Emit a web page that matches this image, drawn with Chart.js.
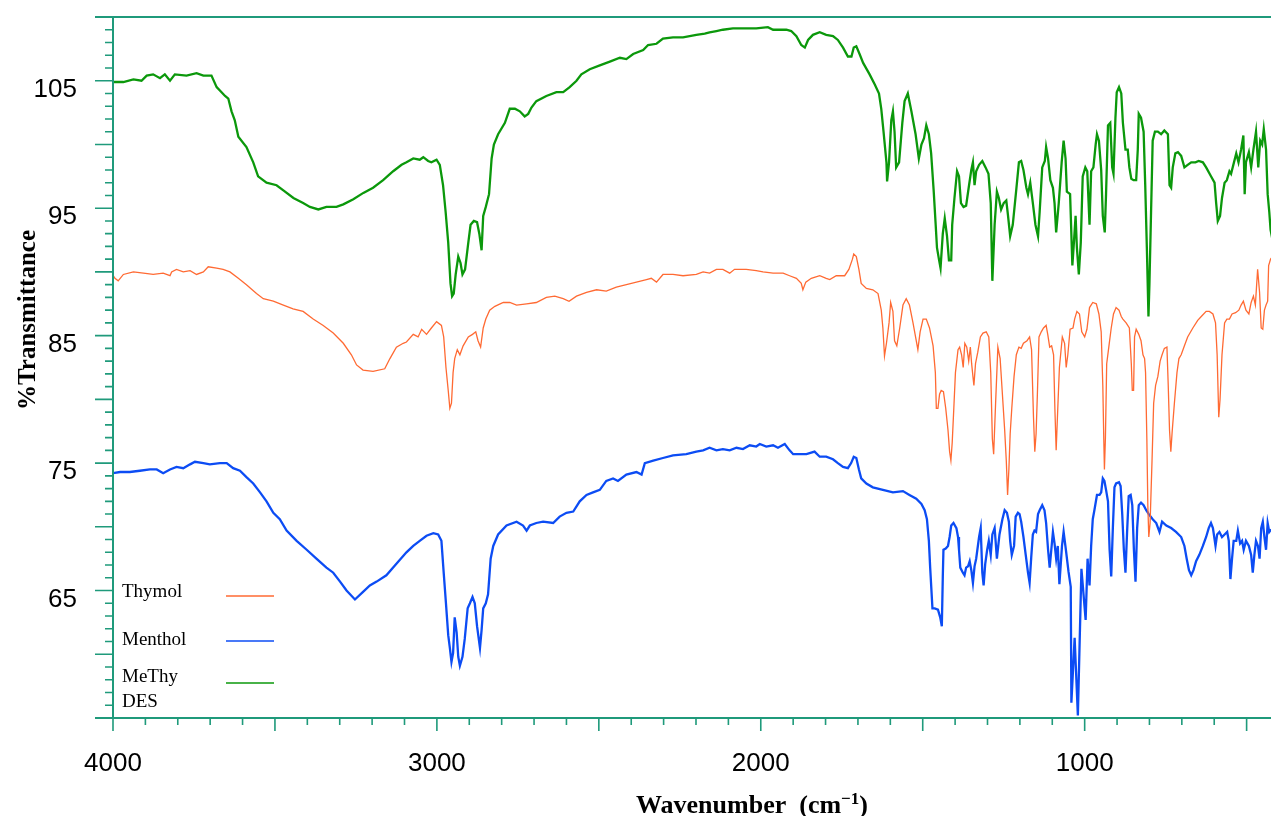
<!DOCTYPE html>
<html>
<head>
<meta charset="utf-8">
<title>FTIR spectra</title>
<script src="https://cdn.jsdelivr.net/npm/chart.js@4.4.1/dist/chart.umd.min.js"></script>
<style>
  html, body { margin: 0; padding: 0; background: #fff; overflow: hidden; }
  #wrap { position: absolute; left: 0; top: 0; width: 1290px; height: 816px; }
</style>
</head>
<body>
<div id="wrap"><canvas id="ftirChart" width="1290" height="816"></canvas></div>
<script>
// [wavenumber (cm-1), %T] for each spectrum
const thymol = [
  [4004,89.9],[3994,89.5],[3984,89.3],[3968,89.8],[3937,90.0],[3906,89.9],[3876,89.8],[3845,89.9],[3824,89.7],[3819,90.0],
  [3804,90.2],[3783,90.0],[3762,90.1],[3742,89.8],[3721,90.0],[3706,90.4],[3680,90.3],[3660,90.2],[3639,90.0],[3613,89.5],
  [3588,89.0],[3557,88.3],[3536,87.9],[3505,87.7],[3474,87.4],[3444,87.1],[3413,86.9],[3382,86.3],[3351,85.8],[3320,85.2],
  [3289,84.4],[3264,83.5],[3248,82.7],[3228,82.3],[3197,82.2],[3161,82.4],[3145,83.2],[3125,84.1],[3104,84.4],
  [3094,84.5],[3073,85.1],[3058,84.9],[3047,85.5],[3032,85.1],[3017,85.6],[3001,86.1],[2986,85.8],[2979,84.9],[2972,82.5],
  [2965,80.7],[2960,79.3],[2955,79.7],[2950,82.1],[2945,83.2],[2937,83.9],[2929,83.5],[2919,84.2],[2903,84.9],[2890,85.1],
  [2880,85.3],[2873,84.6],[2865,84.1],[2857,85.6],[2849,86.3],[2837,87.0],[2821,87.3],[2795,87.6],[2775,87.6],[2754,87.4],
  [2723,87.5],[2693,87.6],[2662,88.0],[2636,88.1],[2610,87.9],[2592,87.7],[2569,88.1],[2538,88.4],[2507,88.6],[2477,88.5],
  [2446,88.8],[2415,89.0],[2384,89.2],[2353,89.4],[2338,89.5],[2322,89.2],[2302,89.8],[2271,89.8],[2240,89.7],
  [2199,89.8],[2178,90.0],[2158,89.9],[2137,90.2],[2117,90.2],[2096,89.9],[2081,90.2],[2045,90.2],[2014,90.1],[1993,90.0],
  [1962,89.9],[1931,89.9],[1911,89.7],[1890,89.5],[1875,89.1],[1870,88.6],[1861,89.2],[1844,89.5],[1818,89.7],[1798,89.5],
  [1787,89.4],[1767,89.7],[1741,89.7],[1728,90.2],[1717,91.0],[1713,91.4],[1705,91.2],[1697,90.2],[1690,89.1],[1674,88.7],
  [1654,88.6],[1638,88.3],[1628,87.0],[1623,85.6],[1618,83.4],[1612,84.4],[1604,86.0],[1599,87.6],[1592,86.9],[1587,84.6],
  [1580,84.2],[1571,85.6],[1561,87.4],[1551,87.9],[1541,87.4],[1530,86.0],[1520,84.6],[1515,83.9],[1508,85.3],[1499,86.3],
  [1489,86.3],[1479,85.6],[1468,84.2],[1461,82.1],
  [1458,79.3],[1453,79.3],[1448,80.4],[1443,80.7],[1436,80.6],[1429,79.3],[1422,77.6],[1417,75.9],[1413,75.2],[1409,76.6],
  [1404,79.3],[1399,82.1],[1391,83.9],[1386,84.1],[1380,83.5],[1375,82.5],[1370,84.4],[1364,84.1],[1358,83.0],[1353,84.1],
  [1349,82.8],[1345,81.8],[1342,81.1],[1337,82.8],[1330,83.7],[1322,84.9],[1314,85.2],[1304,85.3],[1296,84.9],[1290,82.1],
  [1285,76.9],[1281,75.7],[1275,79.7],[1268,84.1],[1261,83.2],[1254,80.4],[1247,77.6],[1242,75.2],[1238,72.5],[1234,74.5],
  [1230,77.3],[1225,79.3],[1218,81.8],[1211,83.5],[1203,84.1],[1196,84.0],[1189,84.4],[1178,84.6],[1170,84.9],[1164,83.9],
  [1158,78.6],[1154,75.9],[1150,77.3],[1146,80.4],[1141,84.9],[1134,85.3],[1127,85.6],[1119,85.8],[1114,85.1],[1108,84.1],
  [1102,84.2],[1096,83.5],[1092,79.3],[1088,76.0],[1083,79.3],[1078,82.5],[1069,84.9],[1062,84.4],[1057,82.5],[1052,83.5],
  [1045,85.5],[1036,85.6],[1031,86.3],[1024,86.9],[1016,86.7],[1009,85.3],[1000,84.9],[993,85.5],
  [985,87.2],[975,87.6],[964,87.5],[956,86.7],[949,85.3],[944,81.1],[941,76.9],[939,74.5],[936,76.9],[932,82.8],
  [925,84.2],[918,85.6],[911,86.7],[903,87.2],[894,87.0],[887,86.5],[882,86.3],[872,86.0],[862,85.6],[856,82.8],
  [853,80.7],[849,80.7],[846,84.9],[841,85.5],[833,85.1],[826,84.6],[820,83.5],[815,83.2],[812,82.1],[808,76.9],
  [805,71.7],[802,69.2],[798,70.3],[792,75.2],[787,79.7],[781,81.1],[774,81.8],[767,83.0],[761,83.5],[754,84.0],
  [746,84.1],[742,81.1],[738,77.6],[734,75.9],[730,77.4],[723,79.7],[715,82.1],[709,83.2],[702,83.5],[692,84.2],
  [682,84.9],[666,85.6],[651,86.2],[640,86.5],[625,86.9],[615,86.9],[604,86.7],[596,86.0],[591,83.5],[586,78.6],
  [582,80.0],[576,83.5],[568,86.0],[561,86.3],[553,86.3],[545,86.7],[534,86.8],[524,87.0],[517,87.4],[510,87.7],
  [502,87.0],[493,86.7],[486,87.6],[479,88.1],[473,87.4],[466,90.2],[460,88.4],[455,85.6],[450,85.5],[445,87.0],
  [440,87.4],[435,87.7],[432,90.5],[426,91.0],[420,91.2]
];

const menthol = [
  [4004,74.2],[3978,74.3],[3948,74.3],[3917,74.4],[3886,74.5],[3865,74.5],[3845,74.2],[3824,74.5],[3804,74.7],[3783,74.6],
  [3762,74.9],[3747,75.1],[3721,75.0],[3701,74.9],[3670,75.0],[3649,75.0],[3629,74.6],[3608,74.4],[3588,73.9],[3567,73.4],
  [3546,72.7],[3526,72.0],[3505,71.1],[3485,70.6],[3464,69.7],[3433,68.9],[3402,68.2],[3372,67.5],[3341,66.8],[3320,66.4],
  [3299,65.7],[3279,65.0],[3253,64.3],[3228,64.9],[3207,65.4],[3186,65.7],[3156,66.2],[3125,67.1],
  [3094,68.0],[3073,68.5],[3053,68.9],[3032,69.3],[3011,69.5],[2996,69.4],[2986,68.9],[2979,66.4],[2972,64.0],[2965,61.5],
  [2960,60.5],[2955,59.4],[2950,60.1],[2945,62.9],[2939,61.7],[2934,59.8],[2929,59.1],[2921,59.8],[2914,61.2],[2905,63.6],
  [2898,64.0],[2890,64.5],[2883,64.0],[2876,62.2],[2867,60.5],[2862,61.9],[2857,63.6],[2849,64.0],[2842,64.7],[2834,67.5],
  [2826,68.5],[2811,69.4],[2785,70.1],[2754,70.4],[2734,70.1],[2723,69.7],[2713,70.1],[2693,70.3],[2672,70.4],[2641,70.3],
  [2621,70.8],[2600,71.1],[2579,71.2],[2559,72.0],[2538,72.5],[2518,72.7],[2497,72.9],[2477,73.6],[2456,73.8],[2441,73.6],
  [2415,74.1],[2384,74.3],[2368,74.1],[2358,75.0],[2332,75.2],[2302,75.4],[2271,75.6],[2230,75.7],
  [2199,75.9],[2178,76.0],[2158,76.2],[2137,76.0],[2117,76.1],[2096,76.0],[2075,76.2],[2055,76.1],[2034,76.4],[2014,76.3],
  [2003,76.5],[1983,76.3],[1962,76.4],[1947,76.2],[1926,76.5],[1911,76.0],[1900,75.7],[1880,75.7],[1859,75.7],[1834,75.9],
  [1818,75.5],[1798,75.5],[1777,75.3],[1762,75.0],[1746,74.7],[1731,74.6],[1721,75.0],[1713,75.5],[1705,75.4],[1697,74.5],
  [1690,73.8],[1674,73.4],[1654,73.1],[1623,72.9],[1592,72.7],[1561,72.8],[1541,72.5],[1520,72.2],[1504,71.8],[1494,71.3],
  [1487,70.6],[1481,68.9],[1477,66.8],[1470,63.6],
  [1463,63.6],[1453,63.5],[1446,62.9],[1441,62.2],[1438,66.1],[1436,68.2],[1429,68.3],[1422,68.5],[1417,69.2],[1412,70.1],
  [1405,70.3],[1396,69.9],[1391,69.2],[1388,68.2],[1384,66.8],[1376,66.4],[1371,66.2],[1366,66.8],[1360,66.9],[1355,67.3],
  [1350,66.6],[1345,65.6],[1340,66.9],[1335,67.5],[1326,69.2],[1321,69.9],[1316,66.4],[1312,65.4],[1307,67.1],[1301,68.2],
  [1296,68.9],[1290,67.8],[1285,69.4],[1278,69.9],[1275,68.9],[1271,67.5],[1263,69.4],[1254,70.6],[1247,71.3],[1240,71.1],
  [1234,70.4],[1230,68.9],[1225,67.8],[1218,68.5],[1213,70.8],[1206,71.1],[1201,71.0],[1196,70.4],[1189,69.2],[1182,67.8],
  [1175,66.4],[1170,65.6],[1165,67.6],[1160,69.4],[1155,69.7],[1150,69.6],[1144,71.0],[1139,71.3],[1131,71.7],[1124,71.3],
  [1119,70.3],[1113,68.2],[1108,66.8],[1103,68.2],[1098,69.6],[1093,68.7],[1088,67.5],[1083,68.5],[1078,65.5],[1070,68.5],
  [1065,69.6],[1058,68.2],[1050,66.5],[1043,65.3],[1041,56.2],[1031,61.3],[1021,55.2],[1010,66.7],[997,62.7],[991,67.5],
  [985,65.4],[980,68.5],[975,70.6],[970,71.3],[962,72.5],[954,72.5],[949,72.7],[944,73.8],[939,73.6],[934,72.9],
  [928,72.0],[923,68.2],[918,66.1],[913,69.9],[908,73.1],[903,73.4],[894,73.5],[889,73.2],[884,71.0],[879,68.2],
  [874,66.4],[869,69.6],[864,72.4],[858,72.5],[853,71.7],[848,68.2],[843,65.7],[838,69.9],[833,71.7],[826,71.9],
  [818,71.7],[810,71.3],[802,71.0],[790,70.6],[779,70.3],[769,69.6],[761,70.4],[748,70.1],[733,69.9],[718,69.6],
  [702,69.2],[692,68.5],[685,67.5],[678,66.6],[671,66.2],[664,66.6],[656,67.3],[646,67.8],[635,68.5],[625,69.2],
  [617,69.9],[610,70.3],[604,69.9],[596,68.5],[591,69.4],[584,69.6],[576,69.2],[568,69.4],[560,69.6],[555,68.9],
  [550,65.9],[545,67.5],[540,68.9],[532,68.9],[527,69.7],[520,68.7],[514,68.9],[509,68.2],[502,68.9],[493,68.5],
  [486,67.8],[481,66.4],[476,67.8],[471,68.9],[465,68.5],[460,67.5],[455,69.9],[450,70.4],[445,69.2],[440,68.2],
  [435,70.3],[430,69.6],[424,69.8]
];

const methyDes = [
  [3999,104.9],[3968,104.9],[3937,105.1],[3912,105.0],[3896,105.4],[3876,105.5],[3855,105.2],[3840,105.5],[3824,105.0],[3809,105.5],
  [3773,105.4],[3742,105.6],[3721,105.4],[3696,105.4],[3680,104.5],[3654,103.8],[3644,103.6],[3634,102.6],[3624,101.9],[3613,100.6],
  [3588,99.8],[3567,98.6],[3552,97.5],[3526,97.0],[3495,96.8],[3474,96.4],[3443,95.8],[3413,95.4],[3392,95.1],[3366,94.9],
  [3341,95.1],[3310,95.1],[3289,95.3],[3258,95.7],[3227,96.2],[3197,96.6],[3166,97.2],[3135,97.9],[3109,98.4],
  [3094,98.6],[3073,98.9],[3053,98.8],[3042,99.0],[3027,98.7],[3017,98.6],[3001,98.8],[2991,98.4],[2981,96.8],[2973,94.7],
  [2965,92.3],[2958,89.1],[2953,88.1],[2948,88.3],[2942,89.8],[2934,91.2],[2927,90.7],[2921,89.8],[2913,90.2],[2903,92.3],
  [2896,93.7],[2886,94.0],[2876,93.9],[2869,93.0],[2862,91.7],[2857,94.4],[2849,95.1],[2839,96.1],[2831,98.9],[2824,100.0],
  [2811,100.8],[2790,101.7],[2775,102.8],[2759,102.8],[2744,102.6],[2729,102.2],[2718,102.4],[2708,102.9],[2693,103.4],[2662,103.8],
  [2631,104.1],[2610,104.1],[2590,104.5],[2569,105.0],[2554,105.5],[2528,105.9],[2497,106.2],[2466,106.5],[2435,106.8],[2415,106.7],
  [2394,107.1],[2363,107.4],[2348,107.8],[2322,107.9],[2302,108.3],[2271,108.4],[2240,108.4],
  [2199,108.6],[2173,108.7],[2158,108.8],[2137,108.9],[2117,109.0],[2086,109.1],[2055,109.1],[2014,109.1],[1978,109.2],[1962,109.0],
  [1942,109.0],[1921,109.0],[1906,108.9],[1890,108.5],[1875,107.8],[1864,107.6],[1854,108.2],[1839,108.6],[1818,108.8],[1798,108.6],
  [1777,108.5],[1762,108.2],[1746,107.6],[1731,106.9],[1720,106.9],[1713,107.6],[1705,107.7],[1695,107.1],[1684,106.4],[1664,105.5],
  [1648,104.7],[1635,104.0],[1628,102.8],[1621,101.0],[1612,98.6],[1610,97.1],[1604,98.6],[1597,101.9],[1592,102.6],[1587,101.0],
  [1582,98.2],[1573,98.6],[1563,101.7],[1556,103.4],[1546,104.0],[1535,102.6],[1522,100.8],[1512,98.9],[1504,100.0],[1496,100.5],
  [1489,101.5],[1481,100.8],[1474,99.3],[1466,96.3],
  [1460,93.7],[1456,91.9],[1450,91.0],[1445,90.3],[1438,93.0],[1432,94.2],[1425,92.8],[1419,90.9],[1412,90.9],[1409,93.7],
  [1402,95.8],[1394,97.9],[1388,97.5],[1382,95.4],[1374,95.1],[1366,95.2],[1357,96.8],[1350,98.0],[1345,98.6],[1340,96.8],
  [1335,97.9],[1326,98.4],[1316,98.7],[1306,98.2],[1297,97.7],[1290,95.4],[1285,89.3],[1278,93.7],[1271,96.3],[1265,95.8],
  [1258,94.9],[1250,95.4],[1242,95.6],[1237,94.5],[1230,92.8],[1222,93.7],[1211,96.5],[1203,98.6],[1196,98.7],[1189,98.0],
  [1180,96.6],[1175,96.1],[1168,97.0],[1160,95.4],[1152,93.7],[1144,92.8],[1139,94.7],[1131,98.2],[1123,98.7],[1119,99.8],
  [1113,98.9],[1106,97.2],[1098,96.6],[1093,95.4],[1088,93.1],[1080,95.4],[1071,98.6],[1065,100.3],[1059,98.9],[1055,96.3],
  [1045,96.1],[1038,90.5],[1033,92.4],[1028,94.4],[1024,91.9],[1018,89.8],[1012,92.3],[1006,97.5],[998,98.2],[992,97.9],
  [985,93.7],[980,97.9],[973,98.2],[966,100.0],[962,100.8],[956,100.3],[949,98.0],[944,94.4],[938,93.1],[934,96.1],
  [928,101.5],[921,101.7],[915,98.2],[911,97.7],[905,102.1],[901,104.1],[894,104.5],[887,104.0],[882,101.7],[874,99.6],
  [867,99.6],[862,98.2],[856,97.3],[849,97.2],[841,97.2],[836,99.6],[833,102.4],[826,102.1],[818,101.0],[813,96.8],
  [808,91.9],[803,86.5],[800,89.1],[795,94.7],[790,100.3],[783,101.0],[774,101.0],[764,100.8],[754,101.1],[743,100.8],
  [738,96.8],[733,96.6],[728,98.2],[720,99.3],[712,99.4],[702,99.1],[692,98.2],[682,98.4],[671,98.6],[658,98.6],
  [648,98.7],[635,98.6],[625,98.2],[610,97.5],[599,97.0],[594,95.4],[589,94.0],[582,94.4],[576,95.8],[568,97.0],
  [561,97.2],[553,97.9],[548,97.7],[541,98.4],[532,99.3],[525,98.6],[517,99.6],[510,100.7],[506,96.1],[502,98.6],
  [493,99.4],[486,98.2],[479,99.6],[471,101.0],[464,98.2],[458,100.3],[452,100.0],[447,101.2],[440,99.6],[435,96.1],
  [430,94.7],[426,93.3],[420,92.5]
];

const seriesNames = ['Thymol', 'Menthol', 'MeThy DES'];
const seriesColors = ['#ff6a33', '#0c4cf4', '#0b980b'];
const seriesWidths = [1.3, 2.3, 2.3];

const xTickLabels = [4000, 3000, 2000, 1000];
const yTickLabels = [65, 75, 85, 95, 105];

const axisColor = '#1f9a7b';

function toPoints(pairs) {
    return pairs.map(p => ({ x: p[0], y: p[1] }));
}

// axis lines, tick marks, axis titles and the small legend block
const framePlugin = {
    id: 'frame',
    afterDatasetsDraw(chart) {
        const { ctx, chartArea: a, scales: { x, y } } = chart;
        ctx.save();
        ctx.strokeStyle = axisColor;
        ctx.lineWidth = 2;
        ctx.beginPath();
        ctx.moveTo(a.left, a.top);
        ctx.lineTo(a.left, a.bottom);
        ctx.moveTo(a.left - 18, a.top);
        ctx.lineTo(chart.width, a.top);
        ctx.moveTo(a.left - 18, a.bottom);
        ctx.lineTo(chart.width, a.bottom);
        ctx.stroke();

        ctx.lineWidth = 1.6;
        ctx.beginPath();
        for (let v = 400; v <= 4000; v += 100) {
            const px = x.getPixelForValue(v);
            const len = v % 500 === 0 ? 13 : 7;
            ctx.moveTo(px, a.bottom);
            ctx.lineTo(px, a.bottom + len);
        }
        for (let v = 56; v < 110; v++) {
            const py = y.getPixelForValue(v);
            const len = v % 5 === 0 ? 18 : 8;
            ctx.moveTo(a.left - len, py);
            ctx.lineTo(a.left, py);
        }
        ctx.stroke();
        ctx.restore();
    },
    afterDraw(chart) {
        const ctx = chart.ctx;
        ctx.save();
        ctx.fillStyle = '#000';

        // y title
        ctx.save();
        ctx.translate(35, 320);
        ctx.rotate(-Math.PI / 2);
        ctx.font = 'bold 25px "Liberation Serif", "Times New Roman", serif';
        ctx.textAlign = 'center';
        ctx.textBaseline = 'alphabetic';
        ctx.fillText('%Transmittance', 0, 0);
        ctx.restore();

        // x title with superscript
        ctx.textAlign = 'left';
        ctx.textBaseline = 'alphabetic';
        ctx.font = 'bold 26px "Liberation Serif", "Times New Roman", serif';
        let tx = 636;
        const part1 = 'Wavenumber  (cm';
        ctx.fillText(part1, tx, 813);
        tx += ctx.measureText(part1).width;
        ctx.font = 'bold 17px "Liberation Serif", "Times New Roman", serif';
        ctx.fillText('\u22121', tx, 804);
        tx += ctx.measureText('\u22121').width;
        ctx.font = 'bold 26px "Liberation Serif", "Times New Roman", serif';
        ctx.fillText(')', tx, 813);

        // legend
        ctx.font = '19px "Liberation Serif", "Times New Roman", serif';
        const rows = [
            { text: ['Thymol'], base: 597, lineY: 596 },
            { text: ['Menthol'], base: 645, lineY: 641 },
            { text: ['MeThy', 'DES'], base: 682, lineY: 683 }
        ];
        rows.forEach((r, i) => {
            r.text.forEach((t, k) => ctx.fillText(t, 122, r.base + k * 25));
            ctx.strokeStyle = seriesColors[i];
            ctx.lineWidth = 1.5;
            ctx.beginPath();
            ctx.moveTo(226, r.lineY);
            ctx.lineTo(274, r.lineY);
            ctx.stroke();
        });
        ctx.restore();
    }
};

const ctx = document.getElementById('ftirChart').getContext('2d');
const chart = new Chart(ctx, {
    type: 'line',
    data: {
        datasets: [thymol, menthol, methyDes].map((s, i) => ({
            label: seriesNames[i],
            data: toPoints(s),
            borderColor: seriesColors[i],
            borderWidth: seriesWidths[i],
            pointRadius: 0,
            tension: 0,
            fill: false
        }))
    },
    options: {
        responsive: false,
        animation: false,
        devicePixelRatio: 1,
        layout: { padding: { left: 0, top: 17, right: 11, bottom: 0 } },
        plugins: {
            legend: { display: false },
            tooltip: { enabled: false }
        },
        scales: {
            x: {
                type: 'linear',
                reverse: true,
                min: 400,
                max: 4000,
                grid: { display: false, drawTicks: false },
                border: { display: false },
                afterBuildTicks: scale => {
                    scale.ticks = xTickLabels.map(v => ({ value: v }));
                },
                afterFit: scale => {
                    scale.height = 98;
                    scale.paddingLeft = 0;
                    scale.paddingRight = 0;
                },
                ticks: {
                    autoSkip: false,
                    maxRotation: 0,
                    padding: 30,
                    color: '#000',
                    font: { family: '"Liberation Sans", Arial, sans-serif', size: 26 },
                    callback: v => String(v)
                }
            },
            y: {
                type: 'linear',
                min: 55,
                max: 110,
                grid: { display: false, drawTicks: false },
                border: { display: false },
                afterBuildTicks: scale => {
                    scale.ticks = yTickLabels.map(v => ({ value: v }));
                },
                afterFit: scale => {
                    scale.width = 113;
                    scale.paddingTop = 0;
                    scale.paddingBottom = 0;
                },
                ticks: {
                    autoSkip: false,
                    padding: 36,
                    labelOffset: 9,
                    color: '#000',
                    font: { family: '"Liberation Sans", Arial, sans-serif', size: 26 },
                    callback: v => String(v)
                }
            }
        }
    },
    plugins: [framePlugin]
});
</script>
</body>
</html>
